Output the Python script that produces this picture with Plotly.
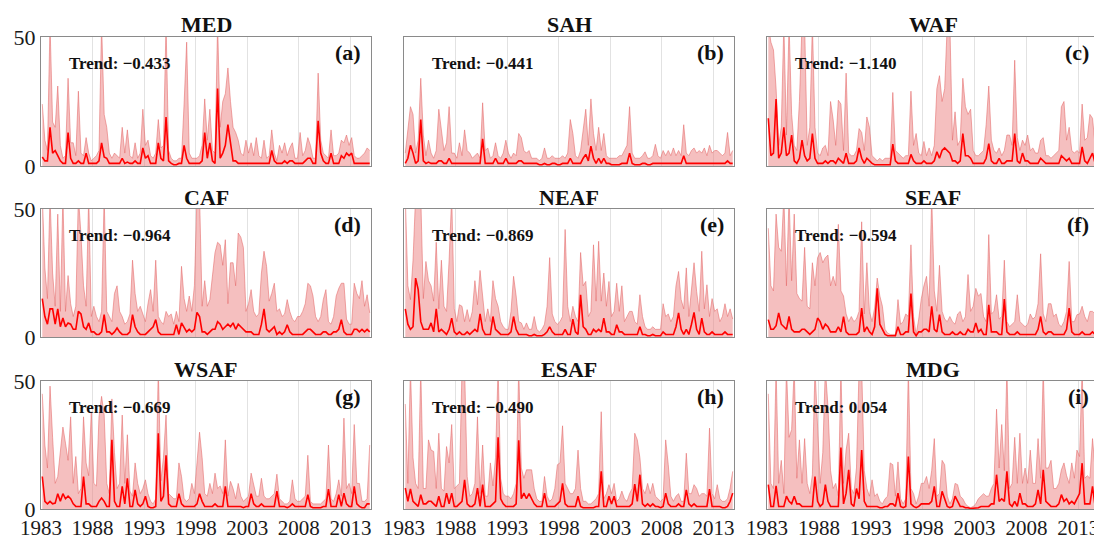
import numpy as np
import plotly.graph_objects as go

YEAR0 = 1983
PER_YEAR = 4
REGIONS = ["MED", "SAH", "WAF", "CAF", "NEAF", "SEAF", "WSAF", "ESAF", "MDG"]
TRENDS = ["−0.433", "−0.441", "−1.140", "−0.964", "−0.869", "−0.594", "−0.669", "−0.490", "0.054"]
LETTERS = ["(a)", "(b)", "(c)", "(d)", "(e)", "(f)", "(g)", "(h)", "(i)"]
X_TICKS = [1983, 1988, 1993, 1998, 2003, 2008, 2013]
Y_TICKS = [0, 50]

# quarterly values 1983 Q1 ... 2014 Q4 (one row = two years)
MED_line = [3.5, 2, 2, 15, 5, 6, 4, 2,
            1, 1, 13, 3, 1, 1, 2, 1,
            1, 5, 1, 1, 1, 1, 2, 9,
            3.5, 3, 1, 1, 1, 1, 1, 3,
            1, 1.5, 1, 1, 2, 1, 1, 7,
            3, 4, 1, 1, 1, 9, 3, 2,
            19, 2, 1, 0.5, 0.5, 1, 1, 8,
            3, 1, 1, 1, 1, 1, 2, 13,
            3, 9, 2, 1, 30, 3, 5, 8,
            16, 8, 2, 2, 1, 1, 1, 1,
            1, 1, 1, 1, 1, 1, 1, 1,
            1, 6, 2, 1, 1, 1, 2, 1,
            2, 2, 1, 1, 1, 1, 2, 3,
            3, 1, 1, 17.5, 5, 2, 1, 1,
            5, 1, 1, 1, 4, 3, 5, 4,
            5, 1, 1, 1, 1, 1, 1, 1]
MED_band = [24, 10, 6, 55, 17, 15, 31, 8,
            3, 4, 34, 9, 9, 4, 29, 5,
            4, 11, 5, 2, 3, 4, 6, 55,
            20, 15, 5, 3, 5, 4, 3, 15,
            5, 14, 4, 3, 9, 3, 5, 22,
            8, 10, 4, 3, 5, 18, 7, 8,
            55, 6, 3, 2, 2, 3, 3, 24,
            48, 5, 3, 3, 3, 4, 8, 26,
            10, 22, 6, 5, 55, 15, 25, 28,
            38, 25, 15, 13, 10, 5, 4, 10,
            5, 9, 4, 11, 4, 3, 10, 3,
            4, 14, 5, 2, 8, 5, 9, 4,
            7, 9, 3, 3, 13, 4, 6, 11,
            8, 3, 3, 36, 10, 5, 4, 3,
            14, 4, 4, 5, 10, 9, 12, 8,
            11, 4, 3, 3, 4, 5, 7, 6]

SAH_line = [1, 3, 8, 5, 1, 2, 18, 2,
            1, 1.5, 1, 1, 1, 2, 2, 1,
            1, 3, 1, 1, 1, 1, 1, 1,
            1, 1, 1, 1, 1, 1, 10.5, 1,
            1, 1, 1, 3, 1, 1, 1, 3,
            1, 1, 1, 1, 2, 2, 1, 1,
            1, 1, 1, 1, 0.5, 0.5, 1, 0.5,
            0.5, 1, 1, 0.5, 0.5, 1, 1, 1,
            3, 1, 1, 1, 1, 3, 4.5, 2,
            7.7, 3, 1, 3, 1, 3, 1, 1,
            0.5, 0.5, 0.5, 0.5, 1, 1, 1, 5,
            1, 0.5, 0.5, 0.5, 1, 1, 0.5, 0.5,
            1, 1, 1, 1, 1, 1, 1, 1,
            1, 1, 1, 1, 4, 1, 1, 1,
            1, 1, 1, 1, 1, 1, 1, 1,
            1, 1, 1, 1, 1, 2, 1, 1]
SAH_band = [5, 15, 23, 20, 5, 10, 34, 12,
            4, 10, 5, 3, 6, 22, 15, 6,
            9, 23, 5, 5, 3, 9, 4, 14,
            6, 5, 3, 4, 5, 3, 24.5, 6,
            7, 3, 4, 9, 4, 3, 5, 10,
            5, 3, 5, 4, 12.6, 11, 6, 5,
            6, 3, 3, 3, 2, 3, 7, 3,
            3, 4, 3, 3, 3, 4, 3, 5,
            18, 12.6, 4, 3, 6, 14, 22, 8,
            26, 12.6, 6, 15, 6, 12.6, 4, 3,
            3, 3, 3, 4, 4, 6, 8, 23,
            5, 3, 3, 3, 4, 5.5, 3, 3,
            4, 8.4, 4, 3, 6, 4, 6, 4,
            7, 4, 6, 4, 16, 5, 4, 6,
            7, 5, 6, 5, 7, 4, 8, 5,
            6, 6, 5, 4, 5, 13, 4, 6]

WAF_line = [18.5, 4, 5, 26, 3, 5, 15, 4,
            5, 12, 2, 1, 3, 10, 4, 2,
            3, 12.6, 3, 1, 1, 1, 2, 1,
            2, 2, 1, 3, 2, 1, 5, 1,
            1, 1, 2, 7, 3, 1, 3, 2,
            1, 0.5, 0.5, 0.5, 0.5, 0.5, 0.5, 0.5,
            8.5, 2, 1, 1, 1, 1, 1, 4.5,
            2, 1, 1, 1, 2, 1, 1, 1,
            2, 5.5, 3, 6, 7, 6, 5, 2,
            2, 1, 2, 12.6, 4, 4, 3, 1,
            1, 1, 1, 1, 3, 8.7, 2, 1,
            1, 3, 1, 1, 2, 2, 2, 12.6,
            2, 1, 5, 2, 2, 1, 1, 1,
            1, 3, 2, 1, 1, 1, 1, 1,
            1, 4, 3, 2, 3, 1, 1, 1,
            1, 7.4, 2, 1, 3, 5, 1, 1]
WAF_band = [55, 48, 45, 30, 8, 15, 55, 12,
            55, 20, 8, 6, 25, 55, 55, 8,
            15, 55, 15, 5, 4, 7, 8, 4,
            25, 18, 8, 25.5, 24, 6, 36, 5,
            4, 4, 6, 14.5, 13, 6, 19, 15,
            4, 3, 2, 3, 2, 3, 3, 3,
            28.5, 6, 5, 4, 3, 4, 4, 29,
            8, 12.6, 5, 4, 9.5, 4, 7, 4,
            8, 30, 35, 25, 30, 55, 55, 10,
            21, 8, 10, 34, 23, 20, 22, 6,
            4, 4, 5, 6, 16, 31, 10, 6,
            5, 7, 4, 6, 12, 12, 8, 41,
            11, 6, 10, 8, 12, 6, 7, 5,
            5, 10, 11, 4, 4, 3, 4, 5,
            6, 23, 25, 10, 15, 6, 5, 6,
            5, 24, 10, 11, 20, 18.5, 8, 6]

CAF_line = [15, 8, 5, 11, 11, 5, 11, 4,
            7.4, 4, 5.5, 5, 3, 3, 10, 9,
            4, 3, 5.5, 2, 2, 1, 1, 2,
            8.7, 2, 2, 1, 2, 3.5, 2, 1,
            1, 1, 2, 8.7, 4, 2, 1, 1,
            1, 2, 3, 4, 6.8, 2, 1, 1,
            1, 1, 1, 1, 4.8, 1, 5.5, 4,
            2, 3, 2, 3, 9.6, 8, 2, 2,
            1, 2, 3, 3, 6, 5, 3, 4,
            5, 4, 5.5, 3, 5, 4, 3, 2,
            2, 2, 1, 1, 1, 5, 11, 3,
            2, 3, 4, 1, 2, 1, 2, 4.8,
            2, 1, 1, 1, 1, 1, 2, 3,
            3, 2, 1, 1, 1, 2, 2, 1,
            1, 2, 2, 3, 6.8, 2, 1, 1,
            1, 3, 3, 2, 3, 2, 3, 2]
CAF_band = [55, 27, 15, 55, 25, 12, 48, 10,
            55, 10, 24, 13, 8, 12, 55, 40,
            20, 12, 55, 8, 12, 8, 6, 10,
            55, 10, 8, 6, 17, 20, 10, 8,
            5, 6, 9, 30, 17, 10, 12, 9,
            6, 13, 18.5, 10, 30, 8, 6, 5,
            10, 8, 9, 5, 10, 6, 27.6, 15,
            10, 16, 10, 20, 55, 55, 12, 22,
            12, 14.6, 25, 33, 37, 36, 28, 38,
            13, 29, 29, 20, 40.6, 39, 35, 10,
            13, 18.5, 10, 8, 9, 25, 33.5, 27.6,
            14, 17, 21, 10, 11, 8, 9, 14.6,
            10, 7, 6, 8, 8, 10, 13, 21,
            20, 16, 8, 6, 8, 14.6, 18.5, 6,
            5, 8, 16, 19, 21, 21, 7, 5,
            5, 21, 17, 15, 22, 12, 16.5, 9.4]

NEAF_line = [11, 5, 3, 4, 23, 18.5, 6, 3,
             3, 3, 5.5, 2, 11, 2, 3, 2,
             1, 3, 7.4, 2, 1, 2, 1, 1,
             2, 1, 2, 3, 2, 9, 3, 1,
             1, 1, 8, 3, 2, 1, 1, 1,
             1, 2, 8, 3, 1, 1, 1, 1,
             0.5, 0.5, 1, 0.5, 0.5, 0.5, 1, 2,
             4, 2, 1, 1, 1, 1, 3, 1,
             1, 7, 2, 1, 16.5, 4, 3, 1,
             1, 3, 2, 3, 2, 7.4, 2, 2,
             1, 1, 4.8, 2, 2, 1, 1, 1,
             1, 1, 1, 4, 1, 1, 0.5, 0.5,
             1, 0.5, 0.5, 0.5, 2, 1, 1, 1,
             1, 4, 9.4, 3, 1, 3, 1, 5,
             9.6, 3, 1, 7.4, 2, 1, 1, 2,
             1, 1, 1, 1, 2, 1, 1, 1]
NEAF_band = [55, 20, 14.6, 30, 55, 55, 55, 15,
             29.5, 22, 20, 14, 37, 11, 30, 12,
             10, 30, 55, 11, 6, 12.6, 12, 6,
             10.7, 6, 10, 22, 12.6, 26, 16, 6,
             11, 6, 22, 15, 12, 6, 4, 3,
             3, 10, 23.7, 16, 6, 5.5, 3, 5.5,
             3, 3, 8, 3, 2, 3, 5, 12,
             31, 9, 6, 5, 6, 8, 42, 12,
             6, 12, 8, 6, 33, 20, 21.7, 8,
             10, 36, 14, 37.4, 14, 25, 12, 21.7,
             8, 10, 21, 10, 20, 6, 8, 10,
             10, 6, 5, 16.5, 8, 4, 3, 3,
             4, 3, 3, 3, 13, 8, 9, 6,
             8, 20, 25.6, 14.6, 11, 27, 8, 20,
             29, 17.8, 10, 33.5, 11, 20.4, 8, 15,
             10, 11, 6, 8, 13, 8, 11, 7]

SEAF_line = [6.8, 3, 3, 4.4, 9.4, 5, 4, 3,
             8, 3, 2, 2, 2, 3, 3, 2,
             1, 2, 3, 7.4, 6, 3, 5, 4,
             2, 2, 2, 4, 2, 8, 2, 1,
             1, 1, 1, 2, 11.3, 2, 4, 2,
             1, 4, 19, 5, 3, 1, 0.5, 0.5,
             0.5, 0.5, 4, 1, 1, 2, 2, 17,
             2, 0.5, 2, 2, 3, 3, 2, 12,
             3, 2, 8.7, 2, 1, 1, 1, 2,
             1, 1, 2, 1, 1, 3, 2, 2,
             5.5, 2, 3, 1, 1, 12.6, 2, 2,
             2, 1, 1, 14.8, 2, 1, 1, 1,
             2, 1, 1, 1, 1, 1, 1, 1,
             3, 8, 2, 1, 2, 2, 1, 1,
             1, 1, 1, 3, 11.3, 2, 1, 1,
             1, 2, 1, 1, 1, 2, 1, 1]
SEAF_band = [42.5, 20, 18, 48, 35, 33.5, 55, 20,
             55, 22, 48, 17, 15, 14, 35, 12,
             11, 29, 20, 31, 33, 29, 31, 32,
             20, 23.7, 20, 44, 18, 16, 9, 6,
             8, 6, 7, 10, 45, 9, 29, 10,
             6, 11.3, 23, 16, 12, 3, 1.5, 1,
             1, 1, 14.6, 5, 6, 9, 8, 36,
             8, 1, 7, 15, 20, 23.7, 12, 55,
             18, 10, 28, 10, 7, 6, 8, 6,
             5, 9, 10, 6, 8, 24.4, 10, 12,
             19, 16, 17, 8, 6, 40, 9, 10,
             16.5, 7, 8, 30, 6, 4, 5, 6,
             16.5, 6, 5, 4, 5, 9, 7, 8,
             13, 32.5, 9, 6, 13, 13, 8, 9,
             5, 4, 6, 10, 29.5, 6, 6, 8.7,
             9, 12, 8, 6, 10, 10, 9, 7]

WSAF_line = [12.7, 3, 2, 3, 2, 2.3, 6, 3,
             6, 4, 5, 4, 2, 1, 1, 1,
             12.7, 2, 2, 1, 1, 1, 3, 4.3,
             3, 1, 1, 27, 3, 1, 1, 8.8,
             2, 12, 1, 1, 7.5, 2, 1, 2,
             5, 1, 0.5, 0.5, 1, 29.6, 3, 5,
             21, 2, 1, 1, 1, 6, 2, 1,
             1, 1, 1, 1, 2, 6, 3, 1,
             1, 1, 1, 2, 1, 1, 1, 8.8,
             1, 1, 1, 1, 1, 1, 0.5, 1,
             1, 6, 2, 1, 1, 2, 1, 1,
             1, 1, 1, 7, 1, 1, 1, 0.5,
             1, 2, 1, 1, 1, 1, 1, 5.6,
             1, 0.5, 0.5, 0.5, 0.5, 1, 1, 7.8,
             1, 1, 1, 5.6, 1, 6.2, 2, 1,
             1, 8.8, 2, 1, 0.5, 0.5, 2, 2]
WSAF_band = [45, 25, 16, 48, 28, 10, 12.7, 23,
             32, 25.7, 19, 36, 10, 20.5, 6, 8,
             36, 18, 13, 38, 10, 9, 36, 44,
             36.7, 10, 6, 43, 22, 8, 10, 36.7,
             10, 29, 7, 5, 18, 10, 6, 8,
             11.4, 6, 3, 2, 4, 55, 11, 20,
             36.7, 6, 5, 4, 4, 18, 12.7, 4,
             3, 4, 10, 6, 18, 30, 20, 6,
             5, 10, 6, 14, 8, 9, 6, 27,
             5, 10.8, 8, 4, 10, 5, 3, 4,
             5, 14, 9, 5, 5, 12, 5, 4,
             4, 5, 6, 13.6, 4, 3, 2, 2,
             3, 11.4, 4, 3, 3, 4, 5, 21,
             3, 2, 2, 2, 2, 3, 4, 25,
             4, 3, 6, 11.4, 5, 35.5, 8, 10,
             6, 33, 10, 10, 3, 3, 4, 25]

ESAF_line = [8.2, 3, 7.8, 3, 2, 1, 5.6, 2,
             2, 3, 3, 2, 1, 5, 1, 1,
             6.2, 2, 6.2, 1, 1, 2, 3, 11.4,
             2, 1, 1, 2, 8.2, 1, 9.5, 1,
             1, 1, 2, 3, 28, 4, 2, 1,
             1, 1, 1, 2, 26.8, 4, 6.2, 4,
             6, 4, 2, 1, 1, 1, 6.2, 1,
             1, 1, 1, 2, 3, 10, 2, 1,
             1, 1, 1, 5, 1, 0.5, 0.5, 0.5,
             0.5, 0.5, 1, 1, 14.7, 1, 1, 5,
             2, 5, 1, 1, 1, 1, 1, 1,
             2, 9.7, 3, 13.4, 2, 1, 2, 1,
             2, 1, 1, 0.5, 1, 6.2, 2, 1,
             1, 1, 2, 1, 1, 7.5, 2, 1,
             2, 1, 1, 1, 1, 1, 7.8, 1,
             1, 1, 1, 0.5, 0.5, 1, 3, 6.2]
ESAF_band = [41, 10, 55, 20, 10, 8, 55, 8,
             8, 27, 23, 22.5, 8, 29.6, 8, 7,
             24.4, 18, 33, 8, 9, 10, 55, 55,
             12.7, 5, 6, 10, 36, 6, 25, 5,
             5, 18, 9, 20, 55, 12, 6, 5,
             5, 4, 6, 10, 55, 16, 12, 15.3,
             15.3, 15.3, 8, 4, 3, 3, 12.7, 5,
             3, 4, 8, 17.3, 18, 32.5, 10, 8,
             6, 6, 8, 23, 8, 3, 3, 2,
             2, 3, 4, 6, 38, 4, 6, 9.5,
             6, 10, 3, 4, 7, 4, 3, 6,
             8, 29.6, 27, 20, 8, 6, 10, 6,
             10, 5, 4, 3, 4, 27, 17.3, 5,
             3, 5, 6, 3, 3, 21.8, 6, 6,
             9.5, 8, 5, 6, 6, 5, 31.6, 6,
             4, 9.5, 4, 3, 3, 4, 8.2, 14.7]

MDG_line = [9.5, 1, 1, 9, 1, 1, 1, 5,
            3, 2, 5, 2, 2, 1, 1, 1,
            1, 1, 12.7, 3, 1, 2, 9.5, 3,
            1, 1, 1, 1, 24, 2, 6.2, 15.3,
            2, 1, 8, 4, 23, 3, 1, 1,
            1, 1, 1, 0.5, 0.5, 1, 1, 2,
            2, 1, 6.2, 1, 0.5, 1, 20.5, 2,
            1, 0.5, 1, 2, 2, 2, 2, 3,
            8.8, 1, 1, 6.9, 4, 1, 0.5, 1,
            5, 3, 1, 1, 0.5, 0.5, 0.2, 0.3,
            0.5, 0.5, 1, 1, 1, 1, 2, 2,
            13.4, 3, 4, 3, 14.7, 2, 1, 3,
            1, 6.2, 2, 2, 1, 1, 1, 2,
            7.5, 2, 15.3, 3, 2, 1, 1, 1,
            2, 5.6, 3, 4, 2, 3, 2, 4,
            6, 17.9, 2, 2, 2, 8.8, 1, 1]
MDG_band = [45, 10, 8, 55, 10, 19, 6, 55,
            28, 31, 55, 12, 27, 10, 27.5, 10,
            6, 13.4, 55, 30, 10, 22, 55, 40,
            15, 8, 10, 5, 55, 10, 23, 29.6,
            8, 6, 16, 55, 55, 15, 8, 5,
            11.4, 5, 6, 3, 2, 4, 5, 18,
            17.3, 5, 18.4, 4, 2, 4, 55, 8,
            6, 2, 5, 10, 10, 12.7, 8, 15,
            27.5, 5, 6, 19, 17.3, 5, 2, 4,
            10, 9.5, 5, 4, 2, 1, 0.5, 1,
            2, 4, 5, 6, 5, 5, 8, 10,
            39, 16, 33, 15, 55, 8, 10, 28,
            10, 29.6, 10, 16, 10, 23, 10, 10,
            27.5, 12, 55, 16, 16, 19, 8, 8,
            10, 15.3, 18, 13, 10, 18, 12, 23,
            20.5, 55, 12, 13, 12, 27.5, 15.3, 8]

LINES = [MED_line, SAH_line, WAF_line, CAF_line, NEAF_line,
         SEAF_line, WSAF_line, ESAF_line, MDG_line]
BANDS = [MED_band, SAH_band, WAF_band, CAF_band, NEAF_band,
         SEAF_band, WSAF_band, ESAF_band, MDG_band]

# the page has an 8px body margin: the figure starts at (8, 8) in the window
OFF = 8
W, H = 1102 - OFF, 537 - OFF
COL_L = [41, 404, 767]
COL_R = [371, 734, 1099]
ROW_T = [37, 209, 381]
ROW_B = [166, 337, 509]

FONT = "Liberation Serif"
fig = go.Figure()
layout = {}
annotations = []


def px(x):
    return (x - OFF) / W


def py(y):
    return 1 - (y - OFF) / H


for k, name in enumerate(REGIONS):
    r, c = divmod(k, 3)
    sfx = "" if k == 0 else str(k + 1)
    line_v = LINES[k]
    band_v = BANDS[k]
    xb = YEAR0 + (np.arange(len(band_v)) + 0.5) / PER_YEAR
    xl = YEAR0 + (np.arange(len(line_v)) + 0.5) / PER_YEAR
    fig.add_trace(go.Scatter(
        x=xb, y=band_v, mode="lines", fill="tozeroy",
        fillcolor="rgba(236,128,128,0.50)",
        line=dict(color="rgba(228,105,105,0.7)", width=0.8),
        xaxis="x" + sfx, yaxis="y" + sfx, showlegend=False, hoverinfo="skip"))
    fig.add_trace(go.Scatter(
        x=xl, y=line_v, mode="lines",
        line=dict(color="#ff0000", width=1.6),
        xaxis="x" + sfx, yaxis="y" + sfx, showlegend=False))
    layout["xaxis" + sfx] = dict(
        domain=[px(COL_L[c]), px(COL_R[c])], anchor="y" + sfx,
        range=[1983, 2015], tickvals=X_TICKS, ticktext=[str(t) for t in X_TICKS],
        showticklabels=(r == 2), tickangle=0, automargin=False,
        ticklabelstandoff=0,
        showgrid=True, gridcolor="#e2e2e2", gridwidth=1,
        showline=True, mirror=True, linecolor="#8a8a8a", linewidth=1,
        zeroline=False, ticks="",
        tickfont=dict(family=FONT, size=21, color="#1a1a1a"))
    layout["yaxis" + sfx] = dict(
        domain=[py(ROW_B[r]), py(ROW_T[r])], anchor="x" + sfx,
        range=[0, 50], tickvals=Y_TICKS, showticklabels=(c == 0),
        automargin=False, showgrid=False, showline=True, mirror=True,
        linecolor="#8a8a8a", linewidth=1, zeroline=False, ticks="",
        tickfont=dict(family=FONT, size=22, color="#1a1a1a"))
    annotations.append(dict(
        x=px((COL_L[c] + COL_R[c]) / 2), y=py(ROW_T[r] - 12), xref="paper", yref="paper",
        text="<b>%s</b>" % name, showarrow=False, xanchor="center", yanchor="middle",
        font=dict(family=FONT, size=22, color="#111")))
    annotations.append(dict(
        x=px(COL_L[c] + 26), y=py(ROW_T[r] + 26), xref="paper", yref="paper",
        text="<b>Trend: %s</b>" % TRENDS[k], showarrow=False, xanchor="left",
        yanchor="middle", font=dict(family=FONT, size=17, color="#111")))
    annotations.append(dict(
        x=px(COL_R[c] - 8), y=py(ROW_T[r] + 15), xref="paper", yref="paper",
        text="<b>%s</b>" % LETTERS[k], showarrow=False, xanchor="right",
        yanchor="middle", font=dict(family=FONT, size=22, color="#111")))

fig.update_layout(
    width=W, height=H, margin=dict(l=0, r=0, t=0, b=0, autoexpand=False),
    paper_bgcolor="white", plot_bgcolor="white",
    annotations=annotations, **layout)

fig.write_html("out.html")
